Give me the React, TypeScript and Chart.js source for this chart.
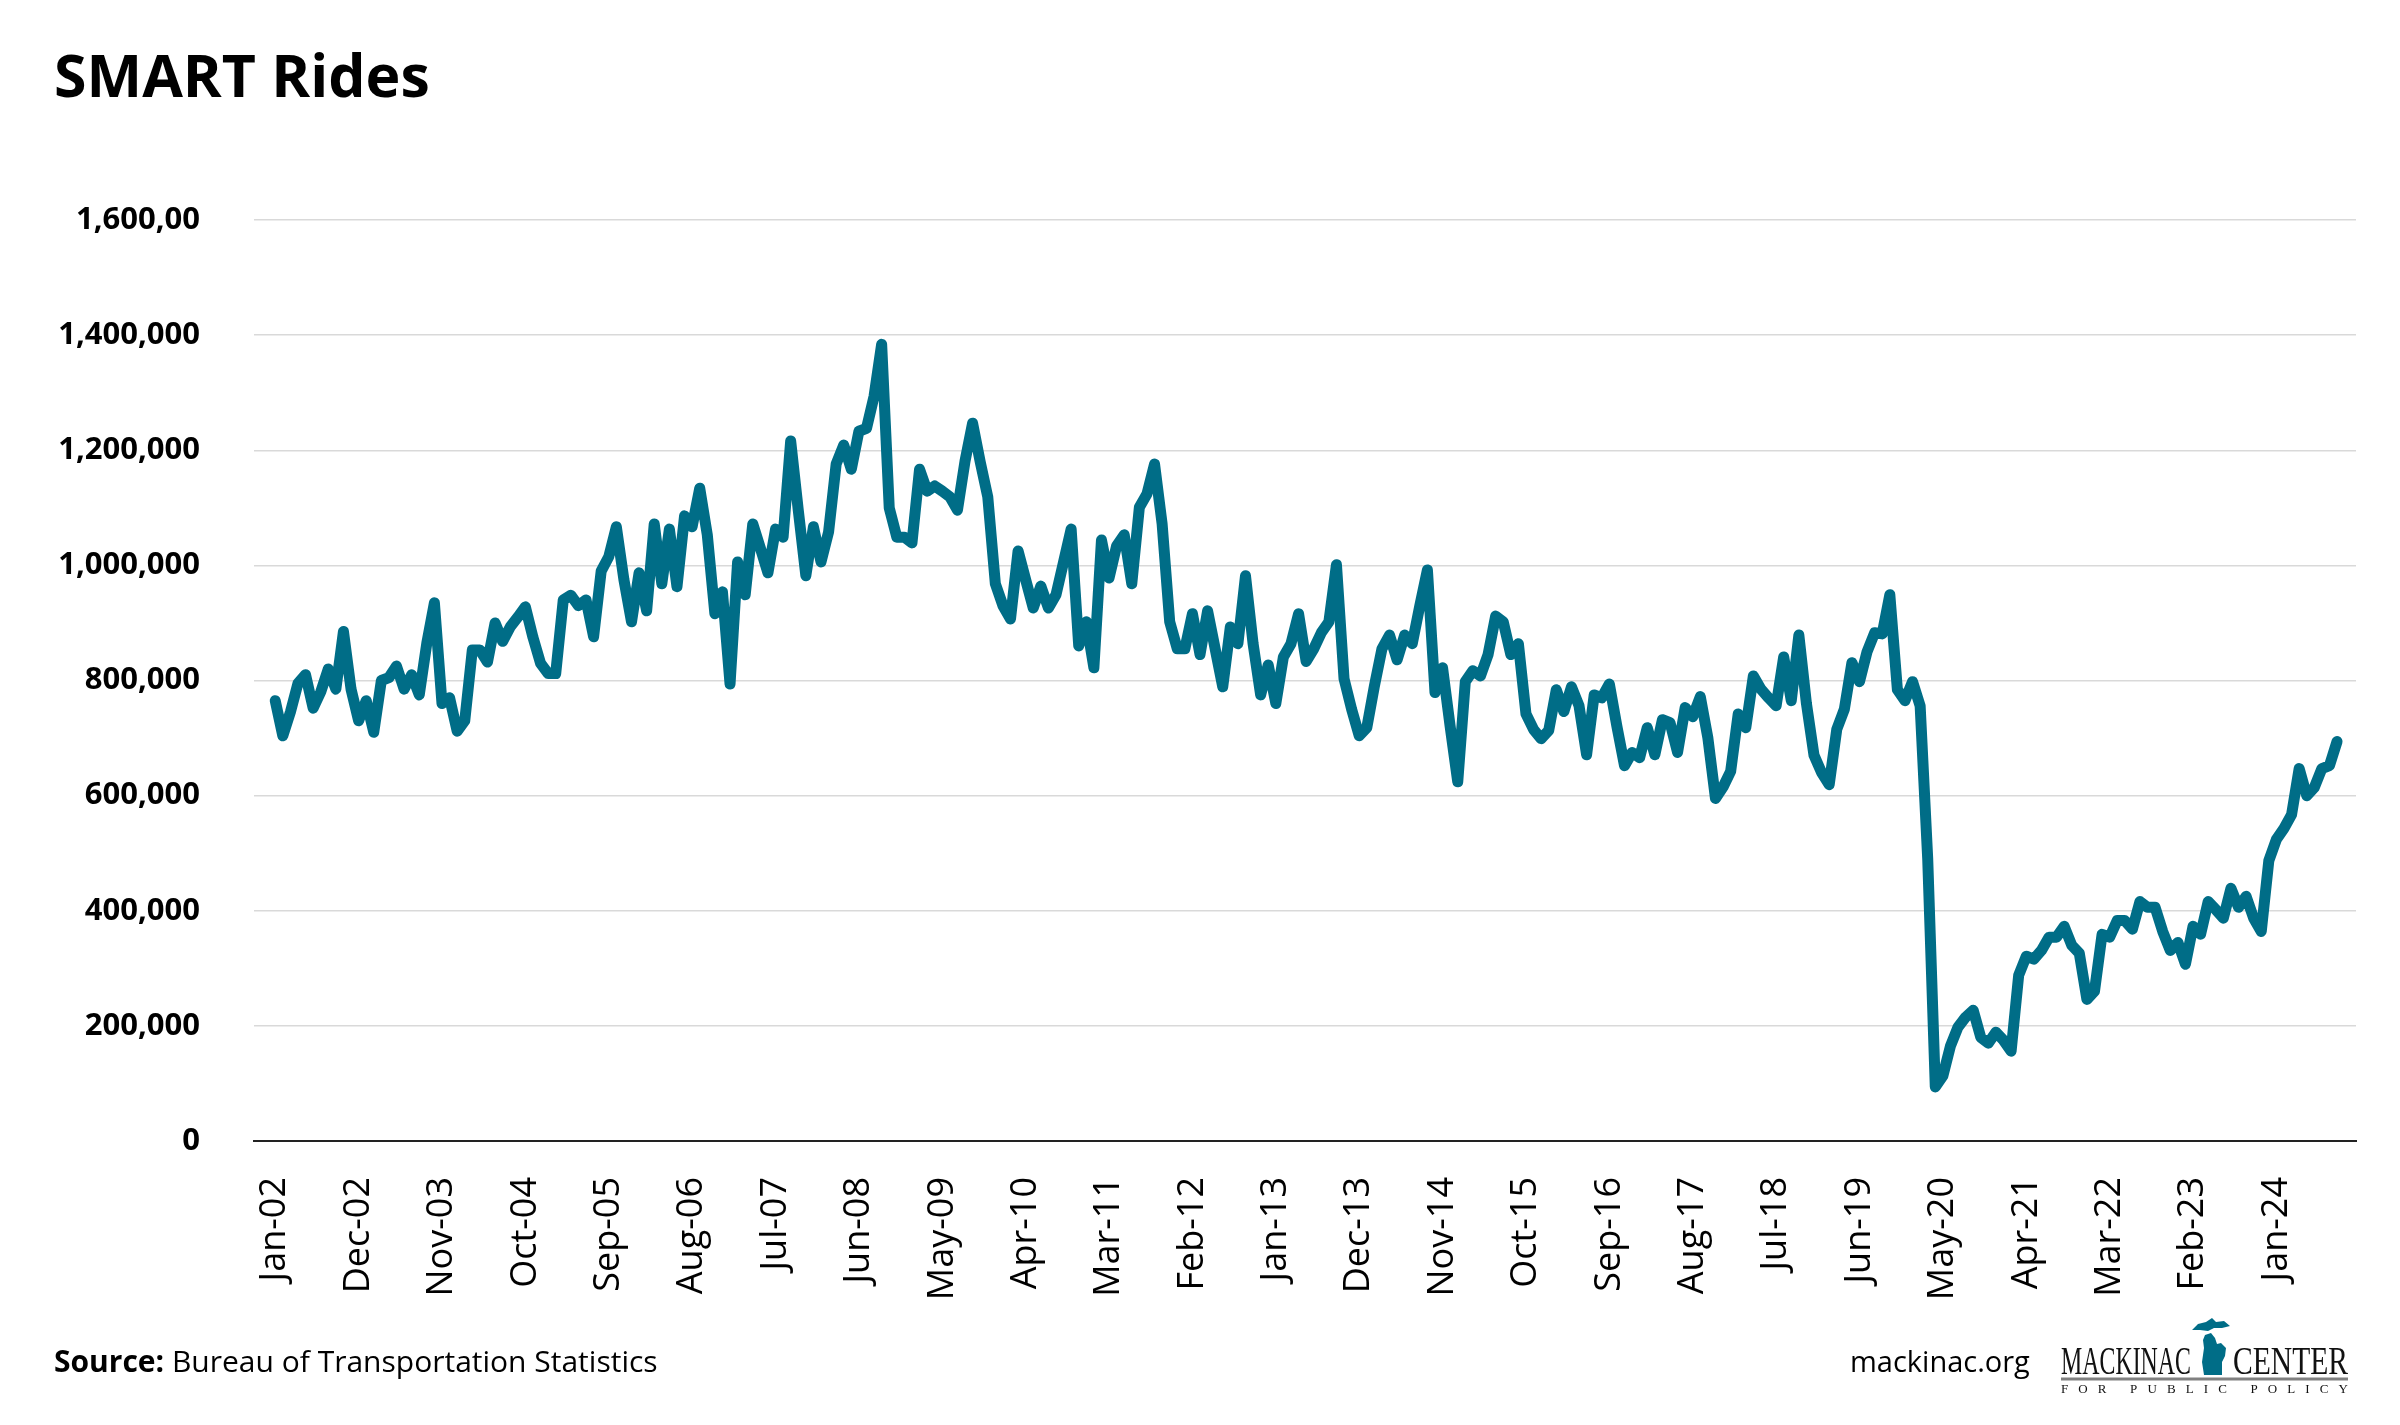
import { useEffect, useRef } from 'react';
import { Chart, registerables } from 'chart.js';

Chart.register(...registerables);

// Monthly SMART rides, Jan-2002 .. Sep-2024
const rides: number[] = [
  765000, 704000, 745000, 795000, 810000, 752000, 780000, 820000, 785000, 885000,
  785000, 730000, 765000, 710000, 800000, 805000, 825000, 785000, 810000, 775000,
  865000, 935000, 760000, 770000, 712000, 730000, 853000, 853000, 832000, 900000,
  868000, 893000, 910000, 928000, 875000, 830000, 812000, 812000, 940000, 948000,
  930000, 940000, 876000, 990000, 1015000,
  1067000, 975000, 902000, 987000, 921000, 1072000, 968000, 1063000, 963000, 1086000,
  1067000, 1134000, 1053000, 916000, 954000, 794000, 1006000, 949000, 1072000, 1030000,
  987000, 1063000, 1049000, 1216000, 1096000, 982000, 1067000, 1006000, 1058000, 1176000,
  1209000, 1167000, 1233000, 1238000, 1294000, 1384000, 1100000, 1049000, 1049000, 1039000,
  1167000, 1129000, 1138000, 1129000, 1119000, 1096000,
  1181000, 1247000, 1180000, 1119000, 968000, 930000, 907000, 1025000, 975000, 926000,
  964000, 926000, 949000, 1006000, 1063000, 860000, 902000, 822000, 1044000, 978000,
  1034000, 1053000, 968000, 1101000, 1124000, 1176000, 1072000, 902000, 855000, 855000,
  916000, 845000, 921000, 855000, 789000, 893000, 864000, 982000, 864000, 775000,
  827000, 760000, 841000, 864000, 916000, 833000,
  855000, 883000, 902000, 1001000, 803000, 750000, 704000, 718000, 790000, 855000,
  879000, 836000, 879000, 864000, 930000, 992000, 779000, 822000, 720000, 624000,
  798000, 817000, 808000, 845000, 912000, 902000, 845000, 864000, 742000, 715000,
  699000, 713000, 784000, 746000, 789000, 756000, 671000, 775000, 770000, 794000,
  720000, 652000, 675000, 666000, 718000, 671000,
  732000, 727000, 675000, 753000, 737000, 772000, 700000, 595000, 615000, 642000,
  742000, 718000, 808000, 785000, 770000, 756000, 841000, 765000, 879000, 760000,
  670000, 640000, 619000, 715000, 750000, 831000, 798000, 850000, 883000, 881000,
  949000, 784000, 765000, 798000, 756000, 490000,
  94000, 113000, 165000, 198000, 215000, 227000, 180000, 170000, 189000, 175000, 156000,
  288000, 321000, 316000, 331000, 354000, 354000, 373000, 340000, 326000, 246000,
  260000, 359000, 354000, 383000, 383000, 368000, 416000, 406000, 406000, 364000,
  331000, 345000, 307000, 373000, 359000, 416000, 402000, 387000, 439000, 406000,
  425000, 387000, 364000, 487000, 524000, 543000, 567000, 647000, 600000, 614000,
  647000, 652000, 694000,
];

const xTickLabels: string[] = [
  'Jan-02', 'Dec-02', 'Nov-03', 'Oct-04', 'Sep-05', 'Aug-06', 'Jul-07', 'Jun-08',
  'May-09', 'Apr-10', 'Mar-11', 'Feb-12', 'Jan-13', 'Dec-13', 'Nov-14', 'Oct-15',
  'Sep-16', 'Aug-17', 'Jul-18', 'Jun-19', 'May-20', 'Apr-21', 'Mar-22', 'Feb-23', 'Jan-24',
];
const xTickStep = 11; // months between labels

const yTickValues: number[] = [0, 200000, 400000, 600000, 800000, 1000000, 1200000, 1400000, 1600000];
const yTickLabels: string[] = ['0', '200,000', '400,000', '600,000', '800,000', '1,000,000', '1,200,000', '1,400,000', '1,600,00'];

const LINE_COLOR = '#006d87';

export default function App() {
  const canvasRef = useRef<HTMLCanvasElement | null>(null);

  useEffect(() => {
    const canvas = canvasRef.current;
    if (!canvas) return;
    const chart = new Chart(canvas, {
      type: 'line',
      data: {
        datasets: [
          {
            label: 'SMART Rides',
            data: rides.map((v, i) => ({ x: i, y: v })),
            borderColor: LINE_COLOR,
            backgroundColor: LINE_COLOR,
            borderWidth: 11,
            pointRadius: 0,
            tension: 0,
            fill: false,
            borderJoinStyle: 'round',
            borderCapStyle: 'round',
          },
        ],
      },
      options: {
        responsive: false,
        animation: false,
        devicePixelRatio: 1,
        layout: { padding: { top: 220, right: 44, bottom: 0, left: 0 } },
        plugins: {
          legend: { display: false },
          tooltip: { enabled: false },
          title: { display: false },
        },
        scales: {
          x: {
            type: 'linear',
            min: -2.8,
            max: 274.5,
            grid: { display: false, drawTicks: false },
            border: { display: true, color: '#222222', width: 2 },
            afterBuildTicks: (s: any) => {
              s.ticks = xTickLabels.map((_, k) => ({ value: k * xTickStep }));
            },
            afterFit: (s: any) => {
              s.height = 284;
            },
            ticks: {
              autoSkip: false,
              minRotation: 90,
              maxRotation: 90,
              padding: 36,
              color: '#000000',
              font: { family: 'Open Sans', size: 36 },
              callback: (v: any) => xTickLabels[Math.round(Number(v) / xTickStep)] ?? '',
            },
          },
          y: {
            type: 'linear',
            min: 0,
            max: 1600000,
            afterBuildTicks: (s: any) => {
              s.ticks = yTickValues.map((v) => ({ value: v }));
            },
            afterFit: (s: any) => {
              s.width = 254;
            },
            grid: { color: '#d9d9d9', lineWidth: 1.5, drawTicks: false },
            border: { display: false },
            ticks: {
              padding: 54,
              color: '#000000',
              font: { family: 'Open Sans', size: 31, weight: 'bold' },
              callback: (v: any) => {
                const k = yTickValues.indexOf(Number(v));
                return k >= 0 ? yTickLabels[k] : '';
              },
            },
          },
        },
      },
    } as any);
    return () => chart.destroy();
  }, []);

  return (
    <div
      style={{
        position: 'absolute',
        left: 0,
        top: 0,
        width: 2400,
        height: 1425,
        background: '#ffffff',
        overflow: 'hidden',
      }}
    >
      <canvas
        ref={canvasRef}
        width={2400}
        height={1425}
        style={{ position: 'absolute', left: 0, top: 0, width: 2400, height: 1425 }}
      />
      <div
        style={{
          position: 'absolute',
          left: 54,
          top: 44,
          fontFamily: "'Open Sans', sans-serif",
          fontWeight: 700,
          fontSize: 59,
          lineHeight: '60px',
          color: '#000',
          whiteSpace: 'nowrap',
        }}
      >
        SMART Rides
      </div>
      <div
        style={{
          position: 'absolute',
          left: 54,
          top: 1346,
          fontFamily: "'Open Sans', sans-serif",
          fontSize: 30,
          lineHeight: '30px',
          color: '#000',
          whiteSpace: 'nowrap',
        }}
      >
        <span style={{ fontWeight: 700 }}>Source:</span> Bureau of Transportation Statistics
      </div>
      <div
        style={{
          position: 'absolute',
          left: 1850,
          top: 1346,
          fontFamily: "'Open Sans', sans-serif",
          fontSize: 29,
          lineHeight: '30px',
          color: '#000',
          whiteSpace: 'nowrap',
        }}
      >
        mackinac.org
      </div>
      <svg
        width={295}
        height={78}
        viewBox="0 0 295 78"
        style={{ position: 'absolute', left: 2058, top: 1318 }}
      >
        <text
          x={3}
          y={56}
          fontFamily="'Liberation Serif', serif"
          fontSize={40}
          textLength={130}
          lengthAdjust="spacingAndGlyphs"
          fill="#111"
        >
          MACKINAC
        </text>
        <path
          d="M134,12 L140,6 L148,4 L154,0 L158,4 L166,3 L172,8 L164,10 L156,10 L150,13 L142,12 Z"
          fill={LINE_COLOR}
        />
        <path
          d="M147,17 L153,15 L157,20 L159,26 L163,25 L168,30 L167,38 L164,44 L164,57 L146,57 L144,44 L146,30 L145,22 Z"
          fill={LINE_COLOR}
        />
        <text
          x={175}
          y={56}
          fontFamily="'Liberation Serif', serif"
          fontSize={40}
          textLength={115}
          lengthAdjust="spacingAndGlyphs"
          fill="#111"
        >
          CENTER
        </text>
        <line x1={3} y1={61} x2={290} y2={61} stroke="#808080" strokeWidth={3} />
        <text
          x={3}
          y={75}
          fontFamily="'Liberation Serif', serif"
          fontSize={13}
          textLength={287}
          lengthAdjust="spacing"
          fill="#111"
        >
          FOR PUBLIC POLICY
        </text>
      </svg>
    </div>
  );
}
